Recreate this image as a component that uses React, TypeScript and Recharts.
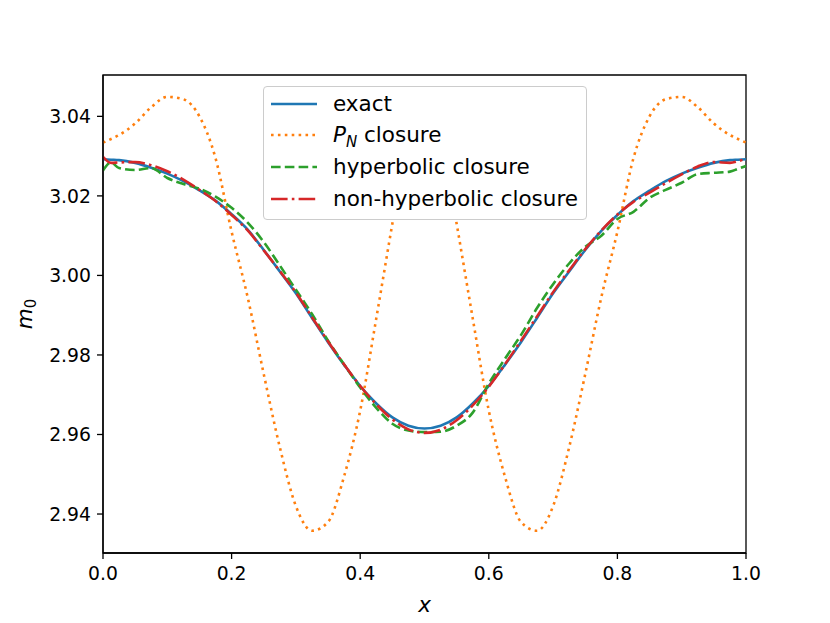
import React from 'react';
import { LineChart, Line, XAxis, YAxis, ReferenceArea, Legend } from 'recharts';

const xs = [0, 0.0125, 0.025, 0.05, 0.075, 0.1, 0.125, 0.15, 0.175, 0.2, 0.225, 0.25, 0.275, 0.3, 0.325, 0.35, 0.375, 0.4, 0.425, 0.45, 0.475, 0.5, 0.525, 0.55, 0.575, 0.6, 0.625, 0.65, 0.675, 0.7, 0.725, 0.75, 0.775, 0.8, 0.825, 0.85, 0.875, 0.9, 0.925, 0.95, 0.975, 0.9875, 1];

const exact = [3.0292, 3.0291, 3.029, 3.0283, 3.0271, 3.0256, 3.0237, 3.0214, 3.0188, 3.0154, 3.0115, 3.0064, 3.001, 2.9955, 2.9893, 2.9832, 2.9775, 2.9722, 2.9678, 2.9643, 2.9622, 2.9615, 2.9622, 2.9643, 2.9678, 2.9722, 2.9775, 2.9832, 2.9893, 2.9955, 3.001, 3.0064, 3.0112, 3.0152, 3.0187, 3.0213, 3.0237, 3.0256, 3.0271, 3.0283, 3.029, 3.0291, 3.0292];

const pnClosure = [3.0334, 3.0343, 3.0353, 3.0382, 3.0423, 3.0449, 3.0443, 3.04, 3.0295, 3.011, 2.9945, 2.9752, 2.9568, 2.942, 2.9358, 2.938, 2.9495, 2.966, 2.9892, 3.013, 3.036, 3.0445, 3.036, 3.013, 2.9892, 2.966, 2.9495, 2.938, 2.9358, 2.942, 2.9568, 2.9752, 2.9945, 3.011, 3.0295, 3.04, 3.0443, 3.0449, 3.0423, 3.0382, 3.0353, 3.0343, 3.0334];

const hyperbolic = [3.0264, 3.0284, 3.027, 3.0265, 3.027, 3.0245, 3.023, 3.0218, 3.0198, 3.017, 3.0133, 3.0084, 3.0025, 2.9964, 2.9903, 2.9836, 2.9776, 2.9718, 2.9667, 2.9627, 2.961, 2.9606, 2.9607, 2.9622, 2.9655, 2.9728, 2.979, 2.985, 2.9918, 2.9978, 3.003, 3.0072, 3.01, 3.0142, 3.016, 3.0195, 3.0215, 3.0233, 3.0255, 3.0258, 3.0261, 3.0268, 3.0275];

const nonHyperbolic = [3.0298, 3.0283, 3.0284, 3.0285, 3.0277, 3.0262, 3.0241, 3.0215, 3.0187, 3.0152, 3.0113, 3.0063, 3.0011, 2.9957, 2.9895, 2.9834, 2.9776, 2.9722, 2.9676, 2.9638, 2.9613, 2.9604, 2.9612, 2.9636, 2.9673, 2.972, 2.9776, 2.9836, 2.9897, 2.9958, 3.0013, 3.0066, 3.0113, 3.0153, 3.0185, 3.0208, 3.0232, 3.0254, 3.0274, 3.0285, 3.0283, 3.0287, 3.0294];

const xTicks = [0, 0.2, 0.4, 0.6, 0.8, 1.0];
const yTicks = [2.94, 2.96, 2.98, 3.0, 3.02, 3.04];
const yDomain = [2.9302, 3.0504];

const data = xs.map((x, i) => ({
  x,
  exact: exact[i],
  pn: pnClosure[i],
  hyp: hyperbolic[i],
  nonhyp: nonHyperbolic[i],
}));

const FONT = '"DejaVu Sans", sans-serif';
const LW = 2.6;
const TICK_FS = 18.8;
const BIG_FS = 21.5;

const series = [
  { key: 'exact', color: '#1f77b4', dash: undefined as string | undefined, label: 'exact' },
  { key: 'pn', color: '#ff7f0e', dash: '2.6 4.3', label: 'PN' },
  { key: 'hyp', color: '#2ca02c', dash: '9.6 4.2', label: 'hyperbolic closure' },
  { key: 'nonhyp', color: '#d62728', dash: '16.6 4.2 2.6 4.2', label: 'non-hyperbolic closure' },
];

const LegendBox = () => (
  <div
    style={{
      position: 'relative',
      width: 324,
      height: 134,
      border: '1.3px solid #cccccc',
      borderRadius: 4,
      background: '#ffffff',
      boxSizing: 'border-box',
      fontFamily: FONT,
      fontSize: BIG_FS,
      color: '#000',
    }}
  >
    {series.map((s, i) => {
      const cy = 16.5 + i * 31.7;
      return (
        <div key={s.key} style={{ position: 'absolute', left: 0, top: cy - 14, height: 28, width: 322 }}>
          <svg width={50} height={28} style={{ position: 'absolute', left: 6, top: 0 }}>
            <line x1={1} x2={47} y1={14} y2={14} stroke={s.color} strokeWidth={LW} strokeDasharray={s.dash} />
          </svg>
          <div style={{ position: 'absolute', left: 69, top: 0, height: 28, lineHeight: '28px', whiteSpace: 'nowrap' }}>
            {s.key === 'pn' ? (
              <span>
                <i>P</i>
                <sub style={{ fontStyle: 'italic', fontSize: 15, verticalAlign: '-5px', lineHeight: 0 }}>N</sub> closure
              </span>
            ) : (
              s.label
            )}
          </div>
        </div>
      );
    })}
  </div>
);

const XLabel = (props: any) => {
  const vb = props.viewBox || { x: 103, y: 553, width: 643, height: 62 };
  return (
    <text x={vb.x + vb.width / 2} y={vb.y + 59} textAnchor="middle" fontFamily={FONT} fontSize={BIG_FS} fontStyle="italic" fill="#000">
      x
    </text>
  );
};

const YLabel = (props: any) => {
  const vb = props.viewBox || { x: 23, y: 75, width: 80, height: 478 };
  const cy = vb.y + vb.height / 2;
  return (
    <text transform={`translate(32, ${cy}) rotate(-90)`} textAnchor="middle" fontFamily={FONT} fontSize={BIG_FS} fill="#000">
      <tspan fontStyle="italic">m</tspan>
      <tspan fontSize={15} dy={4}>0</tspan>
    </text>
  );
};

export default function App() {
  return (
    <div style={{ position: 'absolute', left: 0, top: 0, width: 830, height: 623, background: '#fff' }}>
      <LineChart width={830} height={623} data={data} margin={{ top: 75, right: 84, bottom: 8, left: 23 }}>
        <XAxis
          dataKey="x"
          type="number"
          domain={[0, 1]}
          ticks={xTicks}
          tickFormatter={(v: number) => v.toFixed(1)}
          height={62}
          stroke="#000"
          tickSize={6}
          tickMargin={8}
          tick={{ fill: '#000', fontSize: TICK_FS, fontFamily: FONT }}
          axisLine={{ stroke: '#000', strokeWidth: 1.3 }}
          tickLine={{ stroke: '#000', strokeWidth: 1.3 }}
          label={XLabel}
          allowDataOverflow
        />
        <YAxis
          type="number"
          domain={yDomain}
          ticks={yTicks}
          tickFormatter={(v: number) => v.toFixed(2)}
          width={80}
          stroke="#000"
          tickSize={6}
          tickMargin={6}
          tick={{ fill: '#000', fontSize: TICK_FS, fontFamily: FONT }}
          axisLine={{ stroke: '#000', strokeWidth: 1.3 }}
          tickLine={{ stroke: '#000', strokeWidth: 1.3 }}
          label={YLabel}
          allowDataOverflow
        />
        {series.map((s) => (
          <Line
            key={s.key}
            dataKey={s.key}
            type="monotone"
            stroke={s.color}
            strokeWidth={LW}
            strokeDasharray={s.dash}
            dot={false}
            activeDot={false}
            isAnimationActive={false}
          />
        ))}
        <ReferenceArea x1={0} x2={1} y1={yDomain[0]} y2={yDomain[1]} fill="none" stroke="#000" strokeWidth={1.3} ifOverflow="visible" />
        <Legend
          layout="vertical"
          align="center"
          verticalAlign="middle"
          wrapperStyle={{ position: 'absolute', left: 263, top: 86, width: 324, height: 134 }}
          content={() => <LegendBox />}
        />
      </LineChart>
    </div>
  );
}
